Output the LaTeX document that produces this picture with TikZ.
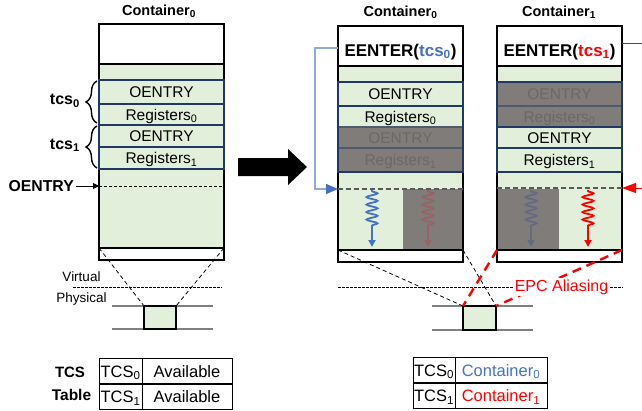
\documentclass[tikz,border=0pt]{standalone}
\usepackage{fontspec}
\setmainfont{Liberation Sans}
\usetikzlibrary{arrows.meta,decorations.pathmorphing,decorations.pathreplacing}
\definecolor{grn}{HTML}{E2EFDA}
\definecolor{navy}{RGB}{31,56,100}
\definecolor{shade}{RGB}{128,124,121}
\definecolor{shadetxt}{RGB}{108,104,101}
\definecolor{myblue}{HTML}{4472C4}
\definecolor{lblue}{HTML}{8FAADC}
\definecolor{myred}{HTML}{FF0000}
\definecolor{fadered}{RGB}{150,100,100}
\definecolor{fadeblue}{RGB}{100,106,130}
\definecolor{physgray}{RGB}{128,128,128}
\definecolor{dgray}{RGB}{89,89,89}
\newcommand\myfs[1]{\fontsize{#1}{#1}\selectfont}
\newcommand\mybox[7]{\node[#6, minimum width={(#4-#2)*1pt}, minimum height={(#5-#3)*1pt}] (#1) at ({(#2+#4)/2},{(#3+#5)/2}) {#7};}
\tikzset{
  plain0/.style={inner sep=0pt, outer sep=0pt},
  framebox/.style={plain0, draw=black, line width=1.8pt},
  whitebox/.style={framebox, fill=white},
  greenbox/.style={framebox, fill=grn},
  rowbox/.style={plain0, draw=navy, line width=1.6pt, fill=grn, font=\myfs{15.5}, text height=11pt, text depth=0pt},
  grayrow/.style={rowbox, fill=shade, text=shadetxt, draw=navy!50!shade},
  cellbox/.style={plain0, draw=black, line width=0.8pt, font=\myfs{16.5}, text height=12pt, text depth=0pt},
  eenterbox/.style={whitebox, font=\bfseries\myfs{17}, text height=20pt, text depth=0pt},
  titletxt/.style={font=\bfseries\myfs{14.5}, anchor=base, inner sep=0pt},
  lbl/.style={font=\bfseries\myfs{15.8}, inner sep=0pt},
  phystxt/.style={font=\myfs{13.5}, inner sep=0pt, anchor=base},
  ldash/.style={draw=black, line width=0.8pt, dash pattern=on 3pt off 2pt},
  rdash/.style={draw=dgray, line width=1.2pt, dash pattern=on 5pt off 3pt},
  vdash/.style={draw=black, line width=0.8pt, dash pattern=on 2.5pt off 1.5pt},
  projdash/.style={draw=black, line width=0.8pt, dash pattern=on 4pt off 3pt},
  reddash/.style={draw=myred, line width=2.4pt, dash pattern=on 9pt off 6pt},
  physln/.style={draw=physgray, line width=1.3pt},
  bracestyle/.style={draw=black, line width=1.4pt, decorate, decoration={brace, amplitude=11pt}},
  wav/.style={line width=1.8pt, decorate, decoration={snake, segment length=7.5pt, amplitude=5.5pt, pre length=1pt, post length=20pt}, -{Triangle[length=7pt,width=7pt]}},
  blueln/.style={draw=lblue, line width=1.4pt, -{Triangle[length=12pt,width=10pt,color=myblue]}},
  redln/.style={draw=myred, line width=1pt, -{Triangle[length=14pt,width=10pt]}},
  blkarr/.style={draw=black, line width=0.9pt, -{Triangle[length=6pt,width=6pt]}}
}
\begin{document}
\begin{tikzpicture}[x=1pt,y=-1pt]
\useasboundingbox (0,0) rectangle (642,410);
% ---------- left container ----------
\mybox{lgreen}{99}{64}{224}{248}{greenbox}{}
\mybox{ltop}{99}{24}{224}{64}{whitebox}{}
\node[titletxt] (ltitle) at (159,15) {Container\textsubscript{0}};
\mybox{la}{99}{80}{224}{104}{rowbox}{OENTRY}
\mybox{lb}{99}{104}{224}{125}{rowbox}{Registers\textsubscript{0}}
\mybox{lc}{99}{125}{224}{147}{rowbox}{OENTRY}
\mybox{ld}{99}{147}{224}{169}{rowbox}{Registers\textsubscript{1}}
\draw[navy, line width=2.2pt] (la.north west) rectangle (lb.south east);
\draw[navy, line width=2.2pt] (lc.north west) rectangle (ld.south east);
\coordinate (lb0a) at (97,123); \coordinate (lb0b) at (97,81);
\coordinate (lb1a) at (97,168); \coordinate (lb1b) at (97,126);
\draw[bracestyle] (lb0a) -- (lb0b);
\draw[bracestyle] (lb1a) -- (lb1b);
\node[lbl, anchor=base east, font=\bfseries\myfs{16}] (tcs0) at (80,104.5) {tcs\textsubscript{0}};
\node[lbl, anchor=base east, font=\bfseries\myfs{16}] (tcs1) at (80,149.3) {tcs\textsubscript{1}};
\node[lbl, anchor=base east] (oel) at (74,191) {OENTRY};
\coordinate (lentry) at (99,186);
\draw[blkarr] ([xshift=1.5pt]oel.east |- lentry) -- (lentry);
\draw[ldash] (lentry) -- (lgreen.east |- lentry);
\mybox{lstrip}{99}{248}{224}{260}{whitebox}{}
% ---------- big arrow ----------
\fill[black] (238,158) -- (288,158) -- (288,149) -- (307,167) -- (288,185) -- (288,176) -- (238,176) -- cycle;
% ---------- right container 0 ----------
\mybox{rg0}{338}{66}{463}{250}{greenbox}{}
\mybox{e0}{338}{26}{463}{66}{eenterbox}{EENTER(\textcolor{myblue}{tcs\textsubscript{0}})}
\node[titletxt] (rtitle0) at (400.5,16.5) {Container\textsubscript{0}};
\mybox{ra0}{338}{82}{463}{106}{rowbox}{OENTRY}
\mybox{rb0}{338}{106}{463}{127}{rowbox}{Registers\textsubscript{0}}
\mybox{rc0}{338}{127}{463}{148}{grayrow}{OENTRY}
\mybox{rd0}{338}{148}{463}{172}{grayrow}{Registers\textsubscript{1}}
\draw[navy, line width=2pt] (ra0.north west) rectangle (rd0.south east);
\mybox{gz0}{403}{189}{462.1}{249.1}{plain0, fill=shade}{}
\coordinate (in0) at (338,189);
\draw[rdash] (in0) -- (rg0.east |- in0);
\coordinate (w0a) at (372,190); \coordinate (w0b) at (372,247);
\coordinate (w0c) at (428,190); \coordinate (w0d) at (428,247);
\draw[wav, myblue] (w0a) -- (w0b);
\draw[wav, fadered] (w0c) -- (w0d);
\mybox{s0}{338}{250}{463}{262}{whitebox}{}
% ---------- right container 1 ----------
\mybox{rg1}{497}{66}{622}{250}{greenbox}{}
\mybox{e1}{497}{26}{622}{66}{eenterbox}{EENTER(\textcolor{myred}{tcs\textsubscript{1}})}
\node[titletxt] (rtitle1) at (559,16) {Container\textsubscript{1}};
\mybox{ra1}{497}{82}{622}{106}{grayrow}{OENTRY}
\mybox{rb1}{497}{106}{622}{127}{grayrow}{Registers\textsubscript{0}}
\mybox{rc1}{497}{127}{622}{148}{rowbox}{OENTRY}
\mybox{rd1}{497}{148}{622}{172}{rowbox}{Registers\textsubscript{1}}
\draw[navy, line width=2pt] (ra1.north west) rectangle (rd1.south east);
\mybox{gz1}{497.9}{189}{559}{249.1}{plain0, fill=shade}{}
\coordinate (in1) at (622,188);
\draw[rdash] (rg1.west |- in1) -- (in1);
\coordinate (w1a) at (531,190); \coordinate (w1b) at (531,247);
\coordinate (w1c) at (588,190); \coordinate (w1d) at (588,247);
\draw[wav, fadeblue] (w1a) -- (w1b);
\draw[wav, myred] (w1c) -- (w1d);
\mybox{s1}{497}{250}{622}{262}{whitebox}{}
% ---------- EENTER connectors ----------
\draw[blueln] ([yshift=-2pt]e0.west) -- ++(-23,0) |- (in0);
\draw[redln] ([yshift=3pt]e1.east) -- (660,43) |- (in1);
% ---------- virtual / physical ----------
\node[phystxt] (virt) at (81.5,281) {Virtual};
\node[phystxt] (phys) at (81.5,302) {Physical};
\coordinate (vl1) at (73,287); \coordinate (vl2) at (222,287);
\draw[vdash] (vl1) -- (vl2);
\coordinate (vr1) at (338,287); \coordinate (vr2) at (623,287);
\draw[vdash] (vr1) -- (vr2);
\coordinate (pLc) at (160,317.5);
\coordinate (pRc) at (479.5,318);
\draw[physln] ([xshift=-48pt,yshift=11.5pt]pLc) -- ([xshift=53pt,yshift=11.5pt]pLc);
\draw[physln] ([xshift=-48pt,yshift=-11.5pt]pLc) -- ([xshift=53pt,yshift=-11.5pt]pLc);
\draw[physln] ([xshift=-47.5pt,yshift=12pt]pRc) -- ([xshift=53.5pt,yshift=12pt]pRc);
\draw[physln] ([xshift=-47.5pt,yshift=-12pt]pRc) -- ([xshift=53.5pt,yshift=-12pt]pRc);
\mybox{pL}{144}{306}{176}{329}{greenbox}{}
\mybox{pR}{463}{306}{496}{330}{greenbox}{}
\draw[projdash] (lstrip.north west) -- (pL.north west);
\draw[projdash] (lstrip.north east) -- (pL.north east);
\draw[projdash] (s0.north west) -- (pR.north west);
\draw[projdash] (s0.north east) -- (pR.north east);
\draw[reddash] (s1.north west) -- (pR.north west);
\draw[reddash] (s1.north east) -- (pR.north east);
\node[font=\myfs{16}, text=myred, fill=white, inner sep=1.5pt, anchor=base] (epc) at (561.5,291) {EPC Aliasing};
% ---------- tables ----------
\node[lbl, anchor=base, font=\bfseries\myfs{15}] (tcslab) at (70,377.3) {TCS};
\node[lbl, anchor=base, font=\bfseries\myfs{15.5}] (tablab) at (71.5,400) {Table};
\mybox{lt00}{99}{358}{142}{384}{cellbox}{TCS\textsubscript{0}}
\mybox{lt01}{142}{358}{232}{384}{cellbox}{Available}
\mybox{lt10}{99}{384}{142}{409}{cellbox}{TCS\textsubscript{1}}
\mybox{lt11}{142}{384}{232}{409}{cellbox}{Available}
\draw[line width=2.4pt] (lt00.south west) -- (lt01.south east);
\mybox{rt00}{413}{357}{455}{383}{cellbox}{TCS\textsubscript{0}}
\mybox{rt01}{455}{357}{547}{383}{cellbox, text=myblue}{Container\textsubscript{0}}
\mybox{rt10}{413}{383}{455}{408}{cellbox}{TCS\textsubscript{1}}
\mybox{rt11}{455}{383}{547}{408}{cellbox, text=myred}{Container\textsubscript{1}}
\draw[line width=2.4pt] (rt00.south west) -- (rt01.south east);
\end{tikzpicture}
\end{document}
